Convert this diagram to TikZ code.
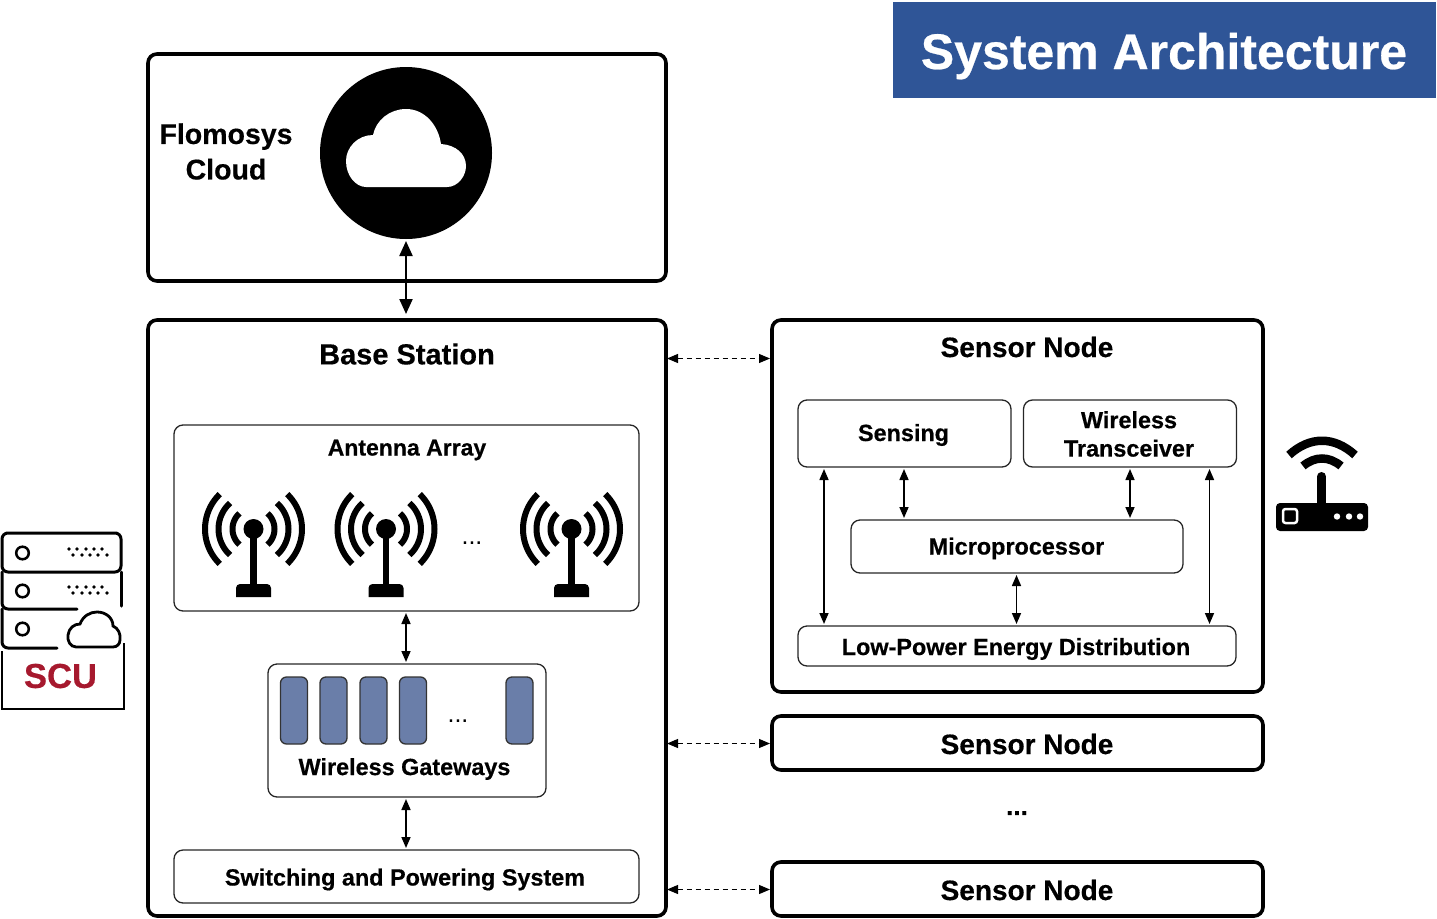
\documentclass[tikz,border=0pt]{standalone}
\usepackage{fontspec}
\setmainfont[BoldFeatures={FakeBold=0.5}]{Liberation Sans}
\usetikzlibrary{arrows.meta}
\definecolor{titleblue}{HTML}{2F5597}
\definecolor{gatefill}{HTML}{6A7EA9}
\definecolor{scured}{HTML}{A6192E}
\newcommand{\fsz}[1]{\fontsize{#1}{#1}\selectfont}
\newcommand{\baseat}[2]{\raisebox{0pt}[\dimexpr 2\dimexpr #1pt\relax\relax][0pt]{#2}}
\newcommand{\antennaicon}[1]{%
  \begin{scope}[shift={(#1,529)}]
    \fill (0,0) circle (10);
    \fill (-3.2,0) rectangle (3.2,62);
    \fill (-17.5,68) [rounded corners=4] -- (-17.5,55) -- (17.5,55) [sharp corners] -- (17.5,68) -- cycle;
    \foreach \r/\a in {21/48,35/48,48.5/46}{
      \draw[line width=6] plot[domain=-\a:\a,samples=21,smooth] ({\r*cos(\x)},{\r*sin(\x)});
      \draw[line width=6] plot[domain=-\a:\a,samples=21,smooth] ({-\r*cos(\x)},{\r*sin(\x)});
    }
  \end{scope}}
\newcommand{\dotrow}[2]{%
  \foreach \dx in {69,77,86,94,102}{\fill (\dx,#1) circle (1.8);}
  \foreach \dx in {73,82,90,98,107}{\fill (\dx,#2) circle (1.8);}}
\tikzset{
  bigbox/.style={draw=black,line width=3.6,rounded corners=9,inner sep=0pt,outer sep=0pt},
  thinbox/.style={draw=black!85,line width=1.3,rounded corners=9,inner sep=0pt,outer sep=0pt,font=\bfseries\fsz{23.4},align=center,text=black},
  gatebar/.style={draw=black!80,line width=1.3,fill=gatefill,rounded corners=6,minimum width=27,minimum height=67,inner sep=0pt},
  lbl/.style={inner sep=0pt,font=\bfseries\fsz{#1},align=center,text=black},
  lbl/.default=28,
  link/.style={line width=1.6,{Triangle[length=11,width=9]}-{Triangle[length=11,width=9]}},
  dashlink/.style={line width=1.1,dash pattern=on 5pt off 4pt,{Triangle[length=11,width=9]}-{Triangle[length=11,width=9]}},
  biglink/.style={line width=2.2,{Triangle[length=15,width=13]}-{Triangle[length=15,width=13]}},
  rack/.style={line width=3,line cap=round,rounded corners=6},
}
\begin{document}
\begin{tikzpicture}[x=1pt,y=-1pt]
\useasboundingbox (0,0) rectangle (1437,918);
% title
\node[fill=titleblue,minimum width=543,minimum height=96,inner sep=0pt,text=white,font=\bfseries\fsz{50}] (title) at (1164,50) {\baseat{19}{System Architecture}};
% cloud box
\node[bigbox,minimum width=518,minimum height=227] (cloudbox) at (407,167.5) {};
\node[lbl=28.5] (cloudlbl) at (226,151.5) {Flomosys\\[7pt]Cloud};
\node[circle,fill=black,minimum size=172,inner sep=0pt,outer sep=0pt] (cloudcirc) at (406,153) {};
\fill[white] (366,187) -- (447,187) .. controls (458,187) and (466,176) .. (466,166) .. controls (466,154) and (456,145) .. (441,144) .. controls (438,124) and (424,109) .. (406,109) .. controls (390,109) and (376,120) .. (373,135) .. controls (358,135) and (346,147) .. (346,161) .. controls (346,176) and (356,187) .. (366,187) -- cycle;
% base station
\node[bigbox,minimum width=518,minimum height=596] (base) at (407,618) {};
\node[lbl=29] (baselbl) at (407,354) {Base Station};
\node[thinbox,minimum width=465,minimum height=186] (array) at (406.5,518) {};
\node[lbl=23] (arraylbl) at (407,450) {Antenna Array};
\antennaicon{253.5}
\antennaicon{386}
\antennaicon{571.5}
\node[inner sep=0pt,font=\fsz{25}] (dotsa) at (472,543) {...};
\node[thinbox,minimum width=278,minimum height=133] (gates) at (407,730.5) {};
\node[gatebar] (g1) at (294,710.5) {};
\node[gatebar] (g2) at (333.5,710.5) {};
\node[gatebar] (g3) at (373.5,710.5) {};
\node[gatebar] (g4) at (413,710.5) {};
\node[gatebar] (g5) at (519.5,710.5) {};
\node[inner sep=0pt,font=\fsz{25}] (dotsg) at (458,721) {...};
\node[lbl=23.4] (gateslbl) at (404.5,769) {Wireless Gateways};
\node[thinbox,minimum width=465,minimum height=53] (switch) at (406.5,876.5) {\hspace*{-3pt}\baseat{9}{Switching and Powering System}};
% sensor node
\node[bigbox,minimum width=491,minimum height=372] (sn1) at (1017.5,506) {};
\node[lbl=28] (sn1lbl) at (1027,347) {Sensor Node};
\node[thinbox,minimum width=213,minimum height=67] (sensing) at (904.5,433.5) {\hspace*{-2pt}\baseat{7.5}{Sensing}};
\node[thinbox,minimum width=213,minimum height=67] (radio) at (1130,433.5) {};
\node[lbl=23.4] (radiolbl) at (1129,434) {Wireless\\[5pt]Transceiver};
\node[thinbox,minimum width=332,minimum height=53] (micro) at (1017,546.5) {\hspace*{-1pt}\baseat{8}{Microprocessor}};
\node[thinbox,minimum width=438,minimum height=40] (power) at (1017,646) {\hspace*{-2pt}\baseat{9}{Low-Power Energy Distribution}};
\node[bigbox,minimum width=491,minimum height=54,font=\bfseries\fsz{28}] (sn2) at (1017.5,743) {\hspace*{19pt}\baseat{11}{Sensor Node}};
\node[bigbox,minimum width=491,minimum height=54,font=\bfseries\fsz{28}] (sn3) at (1017.5,889) {\hspace*{19pt}\baseat{11}{Sensor Node}};
\node[lbl=26] (dotss) at (1017,813) {...};
% connectors
\coordinate (vx0) at (406,0);
\draw[biglink,shorten <=2pt,shorten >=6pt] (vx0 |- cloudcirc.south) -- (vx0 |- base.north);
\draw[link,shorten <=2pt,shorten >=2pt] (vx0 |- array.south) -- (vx0 |- gates.north);
\draw[link,shorten <=2pt,shorten >=2pt] (vx0 |- gates.south) -- (vx0 |- switch.north);
\coordinate (dy1) at (0,358.5);
\coordinate (dy2) at (0,743.5);
\coordinate (dy3) at (0,889.5);
\draw[dashlink,shorten <=1pt,shorten >=2pt] (base.east |- dy1) -- (sn1.west |- dy1);
\draw[dashlink,shorten <=1pt,shorten >=2pt] (base.east |- dy2) -- (sn2.west |- dy2);
\draw[dashlink,shorten <=1pt,shorten >=2pt] (base.east |- dy3) -- (sn3.west |- dy3);
\coordinate (vx1) at (824,0);
\coordinate (vx2) at (904,0);
\coordinate (vx3) at (1130,0);
\coordinate (vx4) at (1209.5,0);
\coordinate (vx5) at (1016.5,0);
\draw[link,shorten <=2pt,shorten >=2pt] (vx1 |- sensing.south) -- (vx1 |- power.north);
\draw[link,shorten <=2pt,shorten >=2pt] (vx2 |- sensing.south) -- (vx2 |- micro.north);
\draw[link,shorten <=2pt,shorten >=2pt] (vx3 |- radio.south) -- (vx3 |- micro.north);
\draw[link,shorten <=2pt,shorten >=2pt] (vx4 |- radio.south) -- (vx4 |- power.north);
\draw[link,shorten <=2pt,shorten >=2pt] (vx5 |- micro.south) -- (vx5 |- power.north);
% router icon
\fill[rounded corners=4] (1276,503) rectangle (1368,531);
\draw[line width=9,line cap=round] (1321.5,476.5) -- (1321.5,505);
\draw[white,line width=2.5,rounded corners=2.5] (1283,509) rectangle (1297,523);
\foreach \rx in {1337,1349,1360}{\fill[white] (\rx,516.5) circle (3.2);}
\draw[line width=8.5] (1289,455) .. controls (1310,436) and (1334,436) .. (1355,455);
\draw[line width=8.5] (1303,466) .. controls (1315,456) and (1329,456) .. (1341,466);
% SCU server icon
\draw[rack] (12,533) -- (111,533) -- (121,533) -- (121,572) -- (2,572) -- (2,533) -- cycle;
\draw[rack] (121,606) -- (121,572);
\draw[rack] (2,572) -- (2,609) -- (77,609);
\draw[rack] (2,609) -- (2,648) -- (57,648);
\foreach \cy in {553,591,629}{\draw[line width=2.5] (22.5,\cy) circle (6.3);}
\dotrow{549}{555}
\dotrow{587}{593}
\draw[line width=2] (2,651) -- (2,709) -- (124,709) -- (124,643);
\draw[line width=2.8,fill=white] (76,647) .. controls (70,647) and (67,640) .. (68,635) .. controls (69,628) and (74,624) .. (80,624) .. controls (83,616) and (90,612) .. (97,612) .. controls (106,612) and (113,618) .. (113,626) .. controls (118,628) and (121,634) .. (120,640) .. controls (120,644) and (117,647) .. (113,647) -- cycle;
\node[inner sep=0pt,text=scured,font=\bfseries\fsz{34.6}] (scu) at (60.5,676) {SCU};
\end{tikzpicture}
\end{document}
